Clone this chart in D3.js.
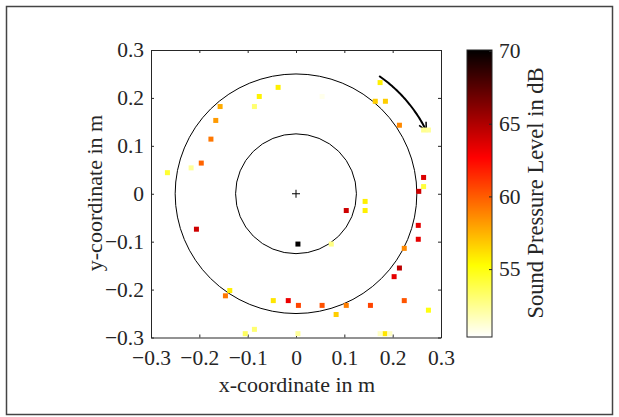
<!DOCTYPE html>
<html>
<head>
<meta charset="utf-8">
<script src="https://cdn.jsdelivr.net/npm/d3@7"></script>
<style>
  html, body { margin: 0; padding: 0; background: #fff; }
  svg { display: block; font-family: "Liberation Serif", "Times New Roman", serif; }
  .axis text { fill: #262626; font-size: 21.5px; font-family: "Liberation Serif", "Times New Roman", serif; }
  .axis path, .axis line { stroke: #262626; }
</style>
</head>
<body>
<svg id="chart" width="619" height="417"></svg>
<script>
// Microphone positions (m) and measured sound pressure level (dB)
const xPos = [-0.037, -0.076, -0.086, -0.157, -0.166, -0.176, -0.196, -0.217, -0.266,
              0.174, 0.054, 0.164, 0.185, 0.214, 0.264, 0.274, 0.264, 0.264, 0.254,
              -0.206, 0.004, -0.137, -0.146, -0.047, -0.016, 0.005, -0.086, -0.105, 0.004,
              0.143, 0.143, 0.104, 0.073, 0.253, 0.253, 0.224, 0.214, 0.203, 0.224,
              0.054, 0.104, 0.154, 0.083, 0.274, 0.184, 0.174, 0.194];
const yPos = [0.222, 0.203, 0.182, 0.182, 0.153, 0.114, 0.064, 0.054, 0.044,
              0.232, 0.203, 0.193, 0.193, 0.143, 0.133, 0.133, 0.034, 0.015, 0.005,
              -0.074, -0.105, -0.202, -0.213, -0.223, -0.223, -0.233, -0.283, -0.292, -0.292,
              -0.016, -0.035, -0.035, -0.105, -0.066, -0.095, -0.114, -0.155, -0.173, -0.223,
              -0.233, -0.233, -0.233, -0.252, -0.243, -0.292, -0.292, -0.292];
const splDb = [55.7, 55.6, 53.1, 57.7, 58.2, 59.2, 59.8, 52.3, 54.3,
               55.7, 50.7, 56.7, 56.7, 58.7, 52.5, 52.3, 63.7, 54.1, 64.1,
               64.1, 70.0, 55.7, 59.2, 56.0, 63.2, 60.7, 53.1, 53.4, 52.3,
               55.7, 55.7, 64.1, 52.7, 63.4, 63.4, 58.7, 64.6, 63.4, 60.2,
               60.3, 59.0, 60.7, 56.7, 55.0, 56.0, 51.5, 51.5];

// Colour limits and colorbar ticks
const cLimits = [50.33, 70.07];
const cTicks = [55, 60, 65, 70];

// Axis ticks
const axisTicks = [-0.3, -0.2, -0.1, 0, 0.1, 0.2, 0.3];

// Reference circles (m) and rotation arrow (radius, start/end angle in degrees)
const circleRadii = [0.125, 0.25];
const arrowArc = [0.3, 55, 26];

const svg = d3.select("#chart");

// Figure frame
svg.append("rect")
  .attr("x", 6.5).attr("y", 6.5).attr("width", 606).attr("height", 408)
  .attr("fill", "none").attr("stroke", "#444").attr("stroke-width", 1.5);

const x = d3.scaleLinear().domain([-0.3, 0.3]).range([151, 441]);
const y = d3.scaleLinear().domain([-0.3, 0.3]).range([337.5, 50]);

// Inverted "hot" colour map: white -> yellow -> red -> black
function hot(s) {
  const r = Math.min(1, s / 0.375);
  const g = Math.max(0, Math.min(1, (s - 0.375) / 0.375));
  const b = Math.max(0, Math.min(1, (s - 0.75) / 0.25));
  return d3.rgb(r * 255, g * 255, b * 255).toString();
}
const color = v => {
  const s = (cLimits[1] - v) / (cLimits[1] - cLimits[0]);
  return hot(Math.max(0, Math.min(1, s)));
};

const fmt = d => (d === 0 ? "0" : d3.format(".1f")(d));

// Axes with inward ticks on all four sides
svg.append("g").attr("class", "axis").attr("transform", "translate(0,337.5)")
  .call(d3.axisBottom(x).tickValues(axisTicks).tickFormat(fmt).tickSizeInner(-3).tickSizeOuter(0).tickPadding(12));
svg.append("g").attr("class", "axis").attr("transform", "translate(151,0)")
  .call(d3.axisLeft(y).tickValues(axisTicks).tickFormat(fmt).tickSizeInner(-3).tickSizeOuter(0).tickPadding(7));
svg.append("g").attr("class", "axis").attr("transform", "translate(0,50)")
  .call(d3.axisTop(x).tickValues(axisTicks).tickFormat("").tickSizeInner(-3).tickSizeOuter(0));
svg.append("g").attr("class", "axis").attr("transform", "translate(441,0)")
  .call(d3.axisRight(y).tickValues(axisTicks).tickFormat("").tickSizeInner(-3).tickSizeOuter(0));
svg.selectAll(".axis .domain").attr("stroke", "#262626").attr("stroke-width", 1);

// Reference circles
const cx = x(0), cy = y(0);
svg.selectAll("ellipse.ring").data(circleRadii).join("ellipse")
  .attr("class", "ring")
  .attr("cx", cx).attr("cy", cy)
  .attr("rx", d => x(d) - x(0)).attr("ry", d => y(0) - y(d))
  .attr("fill", "none").attr("stroke", "#000").attr("stroke-width", 1);

// Centre marker
svg.append("path")
  .attr("d", `M${cx - 4},${cy}H${cx + 4}M${cx},${cy - 4}V${cy + 4}`)
  .attr("stroke", "#000").attr("stroke-width", 1);

// Rotation arrow
const arcPts = d3.range(arrowArc[1], arrowArc[2] - 0.01, -0.5).map(a => {
  const t = a * Math.PI / 180;
  return [x(arrowArc[0] * Math.cos(t)), y(arrowArc[0] * Math.sin(t))];
});
svg.append("path")
  .attr("d", d3.line()(arcPts))
  .attr("fill", "none").attr("stroke", "#000").attr("stroke-width", 2);
{
  const end = arcPts[arcPts.length - 1], prev = arcPts[arcPts.length - 6];
  const ang = Math.atan2(end[1] - prev[1], end[0] - prev[0]);
  const L = 9, w = 0.45;
  const p1 = [end[0] - L * Math.cos(ang - w), end[1] - L * Math.sin(ang - w)];
  const p2 = [end[0] - L * Math.cos(ang + w), end[1] - L * Math.sin(ang + w)];
  svg.append("path")
    .attr("d", `M${p1}L${end}L${p2}`)
    .attr("fill", "none").attr("stroke", "#000").attr("stroke-width", 1.5);
}

// Measurement points as filled squares
const pts = xPos.map((d, i) => ({ x: d, y: yPos[i], v: splDb[i] }));
const sz = 5;
svg.append("g").selectAll("rect").data(pts).join("rect")
  .attr("x", d => x(d.x) - sz / 2).attr("y", d => y(d.y) - sz / 2)
  .attr("width", sz).attr("height", sz)
  .attr("fill", d => color(d.v));

// Axis labels
svg.append("text").attr("x", 297).attr("y", 392).attr("text-anchor", "middle")
  .attr("fill", "#262626").attr("font-size", 22).text("x-coordinate in m");
svg.append("text").attr("transform", "translate(102,193) rotate(-90)").attr("text-anchor", "middle")
  .attr("fill", "#262626").attr("font-size", 22).text("y-coordinate in m");

// Colorbar
const cb = { x: 467, w: 25, top: 50, bottom: 337 };
const cScale = d3.scaleLinear().domain(cLimits).range([cb.bottom, cb.top]);
const steps = d3.range(cb.top, cb.bottom, 1);
svg.append("g").selectAll("rect").data(steps).join("rect")
  .attr("x", cb.x).attr("y", d => d).attr("width", cb.w).attr("height", 1.05)
  .attr("fill", d => color(cScale.invert(d + 0.5)));
svg.append("rect").attr("x", cb.x).attr("y", cb.top).attr("width", cb.w).attr("height", cb.bottom - cb.top)
  .attr("fill", "none").attr("stroke", "#262626").attr("stroke-width", 1);
svg.append("g").attr("class", "axis").attr("transform", `translate(${cb.x + cb.w},0)`)
  .call(d3.axisRight(cScale).tickValues(cTicks).tickFormat(d3.format("d")).tickSizeInner(-3).tickSizeOuter(0).tickPadding(7))
  .select(".domain").remove();
svg.append("text").attr("transform", "translate(543,193) rotate(-90)").attr("text-anchor", "middle")
  .attr("fill", "#262626").attr("font-size", 22.5).text("Sound Pressure Level in dB");
</script>
</body>
</html>
